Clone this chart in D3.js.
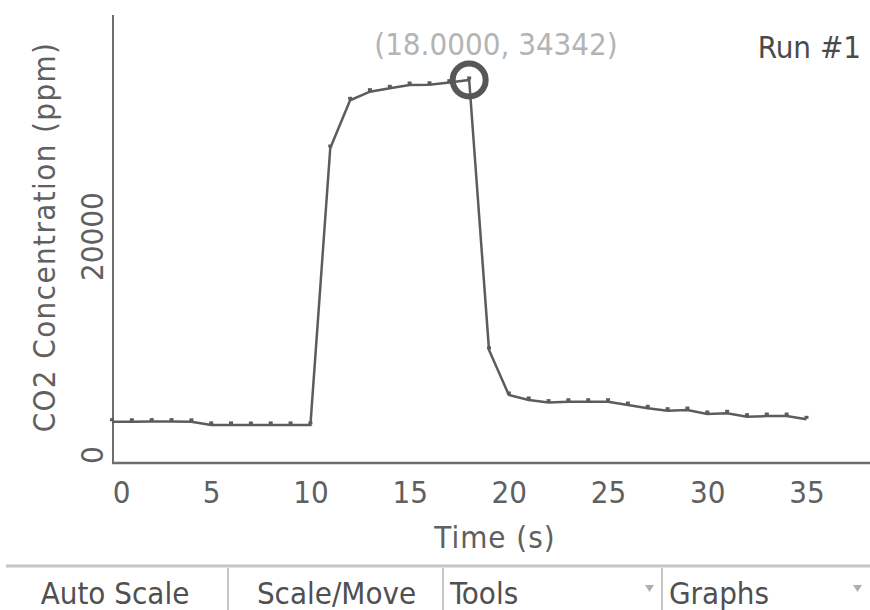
<!DOCTYPE html>
<html>
<head>
<meta charset="utf-8">
<script src="https://cdn.jsdelivr.net/npm/d3@7/dist/d3.min.js"></script>
<style>
html, body { margin: 0; padding: 0; background: #fff; }
svg { display: block; }
text { font-family: "DejaVu Sans Condensed", "DejaVu Sans", sans-serif; font-stretch: condensed; }
</style>
</head>
<body>
<svg id="co2_plot"></svg>
<script>
// data, one sample per second
var times = [0, 1, 2, 3, 4, 5, 6, 7, 8, 9, 10, 11, 12, 13, 14, 15, 16, 17,
             18, 19, 20, 21, 22, 23, 24, 25, 26, 27, 28, 29, 30, 31, 32, 33, 34, 35];
var co2 = [3050, 3050, 3060, 3060, 3040, 2760, 2760, 2750, 2760, 2760, 2760,
           28110, 32480, 33270, 33580, 33880, 33900, 34100, 34342,
           9620, 5500, 5040, 4800, 4880, 4880, 4880, 4580, 4280, 4060, 4120,
           3760, 3820, 3510, 3570, 3570, 3270];
var xTicks = [0, 5, 10, 15, 20, 25, 30, 35];
var yTicks = [0, 20000];
var xTitle = 'Time (s)';
var yTitle = 'CO2 Concentration (ppm)';
var runLabel = 'Run #1';
var peakTime = 18;
var peakValue = 34342;
var toolbarItems = ['Auto Scale', 'Scale/Move', 'Tools', 'Graphs'];
var toolbarMenus = [false, false, true, true];

var co2_plot = {
    plot_id: '#co2_plot',
    svg: null,
    width: 870,
    height: 610,
    font_size: 31,
    color_axis: '#6e6e6e',
    color_line: '#5c5c5c',
    color_text: '#606060',
    color_note: '#b4b4b4',
    left: 113,
    bottom: 463,
    top: 15,
    right: 870,

    init: function() {
        this.svg = d3.select(this.plot_id)
            .attr('width', this.width)
            .attr('height', this.height);
        this.x = d3.scaleLinear().domain([0, 38.1]).range([112, 868]);
        this.y = d3.scaleLinear().domain([-730, 40290]).range([this.bottom, this.top]);
    },

    draw: function() {
        var self = this;
        var x = this.x, y = this.y;

        // axes lines
        this.svg.append('line')
            .attr('x1', this.left).attr('x2', this.left)
            .attr('y1', this.top).attr('y2', this.bottom + 1)
            .attr('stroke', this.color_axis).attr('stroke-width', 2);
        this.svg.append('line')
            .attr('x1', this.left - 1).attr('x2', this.right)
            .attr('y1', this.bottom).attr('y2', this.bottom)
            .attr('stroke', this.color_axis).attr('stroke-width', 2.5);

        // x tick labels
        var gx = this.svg.append('g')
            .attr('transform', 'translate(0,' + (this.bottom + 40) + ')')
            .call(d3.axisBottom(x).tickValues(xTicks).tickSize(0).tickPadding(0));
        gx.select('.domain').remove();
        gx.selectAll('text')
            .attr('font-size', this.font_size)
            .attr('fill', this.color_text)
            .attr('dy', 0)
            .attr('dx', function(d) { return d == 0 ? 9 : 0; })
            .style('font-family', null);

        // y tick labels (rotated)
        yTicks.forEach(function(v) {
            self.svg.append('text')
                .attr('transform', 'translate(103,' + y(v) + ') rotate(-90)')
                .attr('text-anchor', 'middle')
                .attr('font-size', self.font_size)
                .attr('fill', self.color_text)
                .text(d3.format('d')(v));
        });

        // axis titles
        this.svg.append('text')
            .attr('x', 495).attr('y', 548)
            .attr('text-anchor', 'middle')
            .attr('font-size', this.font_size)
            .attr('letter-spacing', 1)
            .attr('fill', this.color_text)
            .text(xTitle);
        this.svg.append('text')
            .attr('transform', 'translate(55,237) rotate(-90)')
            .attr('text-anchor', 'middle')
            .attr('font-size', this.font_size)
            .attr('letter-spacing', 1.4)
            .attr('fill', this.color_text)
            .text(yTitle);

        // the data line
        var pts = times.map(function(t, i) { return [t, co2[i]]; });
        this.svg.append('path')
            .attr('d', d3.line().x(function(d) { return x(d[0]); }).y(function(d) { return y(d[1]); })(pts))
            .attr('fill', 'none')
            .attr('stroke', this.color_line)
            .attr('stroke-width', 2.5);
        // small point markers
        this.svg.append('g').selectAll('rect')
            .data(pts)
            .enter().append('rect')
            .attr('x', function(d) { return x(d[0]) - 2; })
            .attr('y', function(d) { return y(d[1]) - 3.5; })
            .attr('width', 4)
            .attr('height', 3)
            .attr('fill', this.color_line);

        // examine cursor on the peak
        this.svg.append('circle')
            .attr('cx', x(peakTime)).attr('cy', y(peakValue))
            .attr('r', 16.5)
            .attr('fill', 'none')
            .attr('stroke', '#575757')
            .attr('stroke-width', 6);
        this.svg.append('text')
            .attr('x', 496).attr('y', 55)
            .attr('text-anchor', 'middle')
            .attr('font-size', this.font_size)
            .attr('fill', this.color_note)
            .text('(' + peakTime.toFixed(4) + ', ' + peakValue + ')');

        this.svg.append('text')
            .attr('x', 861).attr('y', 58)
            .attr('text-anchor', 'end')
            .attr('font-size', this.font_size)
            .attr('fill', '#4a4a4a')
            .text(runLabel);

        this.draw_toolbar();
    },

    draw_toolbar: function() {
        var self = this;
        var edges = [0, 228, 443, 662, 870];
        this.svg.append('line')
            .attr('x1', 6).attr('x2', this.width)
            .attr('y1', 566).attr('y2', 566)
            .attr('stroke', '#c4c4c4').attr('stroke-width', 3);
        toolbarItems.forEach(function(label, i) {
            var x0 = edges[i], x1 = edges[i + 1];
            if (i > 0) {
                self.svg.append('line')
                    .attr('x1', x0).attr('x2', x0)
                    .attr('y1', 568).attr('y2', 610)
                    .attr('stroke', '#a0a0a0').attr('stroke-width', 1.2);
            }
            var t = self.svg.append('text')
                .attr('y', 604)
                .attr('font-size', self.font_size)
                .attr('fill', '#505050')
                .text(label);
            if (toolbarMenus[i]) {
                t.attr('x', x0 + 7).attr('text-anchor', 'start');
                self.svg.append('path')
                    .attr('d', 'M' + (x1 - 17) + ',585 l9,0 l-4.5,7 z')
                    .attr('fill', '#b0b0b0');
            } else {
                t.attr('x', (x0 + x1) / 2 + 1).attr('text-anchor', 'middle');
            }
        });
    }
};

co2_plot.init();
co2_plot.draw();
</script>
</body>
</html>
